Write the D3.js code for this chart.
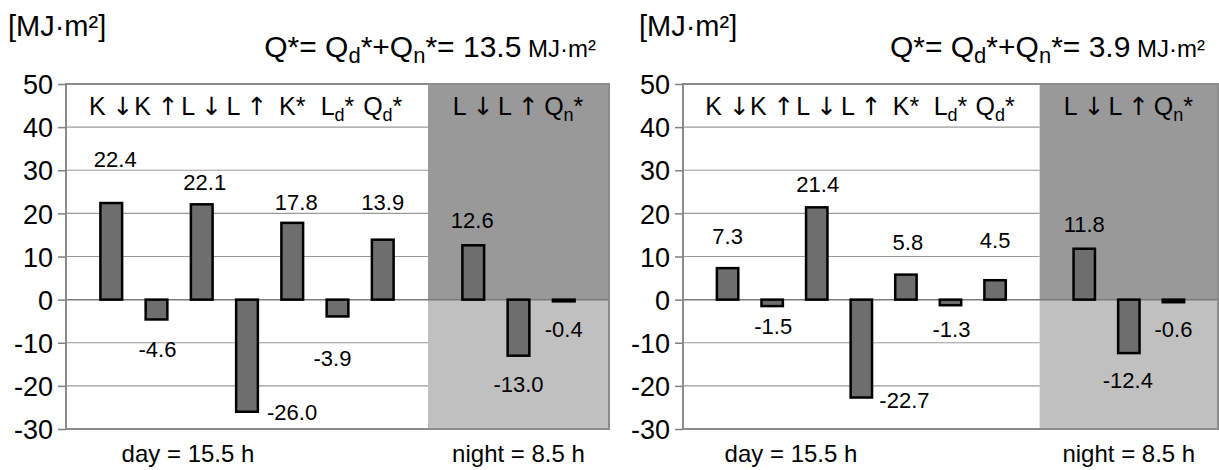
<!DOCTYPE html>
<meta charset="utf-8">
<style>
    body { margin: 0; background: #fff; }
    svg text { font-family: "Liberation Sans", Arial, sans-serif; fill: #000; }
    .tick text { font-size: 27px; }
    .tick line { stroke: #808080; stroke-width: 1.5; }
    .arrow { font-family: "DejaVu Sans", sans-serif; font-variant-emoji: text; }
</style>
<svg width="1219" height="470"></svg>
<script src="https://d3js.org/d3.v7.min.js"></script>
<script>

    // ---- data ----
    var yTicks = [-30, -20, -10, 0, 10, 20, 30, 40, 50];

    // "_x" means x is a subscript
    var dayCategories = ["K ↓", "K ↑", "L ↓", "L ↑", "K*", "L_d*", "Q_d*"];
    var nightCategories = ["L ↓", "L ↑", "Q_n*"];

    var dayValuesA = [22.4, -4.6, 22.1, -26.0, 17.8, -3.9, 13.9];
    var nightValuesA = [12.6, -13.0, -0.4];

    var dayValuesB = [7.3, -1.5, 21.4, -22.7, 5.8, -1.3, 4.5];
    var nightValuesB = [11.8, -12.4, -0.6];

    var totals = [13.5, 3.9];
    var dayHours = 15.5, nightHours = 8.5;
    var unitLabel = "[MJ·m²]";

    // ---- layout ----
    var svg = d3.select("svg");
    // plain hyphen for negatives, like the original
    var fmt = function (v) { return d3.format(".1f")(v).replace("\u2212", "-"); };

    var y = d3.scaleLinear()
        .domain([-30, 50])
        .range([429, 84]);

    // label nudges [dx, dy from bar end, anchor], hand placed like in the original
    var panels = [
        {
            left: 66, right: 609, unitX: 8, dayTextX: 188,
            day: dayValuesA, night: nightValuesA, total: totals[0],
            nudges: [[4, -36], [1, 38], [3, -14], [20, 8, "start"], [4, -13], [-5, 50], [0, -30],
                     [-1, -17], [0, 36], [0, 36]]
        },
        {
            left: 683, right: 1218, unitX: 639, dayTextX: 791,
            day: dayValuesB, night: nightValuesB, total: totals[1],
            nudges: [[0, -24], [1, 28], [1, -15], [18, 10, "start"], [2, -25], [1, 32], [0, -32],
                     [0, -17], [-1, 35], [0, 35]]
        }
    ];

    function plain(sel, s) {
        // arrows go in a font that draws them as text, not emoji
        s.split(/([↑↓])/).forEach(function (part) {
            if (!part) return;
            var t = sel.append("tspan").text(part);
            if (part == "↑" || part == "↓") t.attr("class", "arrow");
        });
    }

    function labelText(sel, label, subSize) {
        var parts = label.split("_");
        plain(sel, parts[0]);
        if (parts.length > 1) {
            sel.append("tspan")
                .attr("font-size", subSize)
                .attr("dy", 6)
                .text(parts[1].charAt(0));
            sel.append("tspan")
                .attr("dy", -6)
                .text(parts[1].slice(1));
        }
    }

    panels.forEach(function (p, pi) {
        var g = svg.append("g");

        var dayKeys = dayCategories.map(function (d, i) { return "d" + i; });
        var nightKeys = nightCategories.map(function (d, i) { return "n" + i; });
        var x = d3.scalePoint()
            .domain(["start"].concat(dayKeys, ["mid"], nightKeys, ["end"]))
            .range([p.left, p.right]);
        var barW = x.step() * 0.48;

        // night background
        g.append("rect")
            .attr("x", x("mid")).attr("y", y(50))
            .attr("width", x("end") - x("mid")).attr("height", y(0) - y(50))
            .attr("fill", "#999999");
        g.append("rect")
            .attr("x", x("mid")).attr("y", y(0))
            .attr("width", x("end") - x("mid")).attr("height", y(-30) - y(0))
            .attr("fill", "#c0c0c0");

        // grid lines in the day part
        g.selectAll(".grid")
            .data(yTicks.filter(function (t) { return t > -30 && t < 50 && t != 0; }))
            .enter().append("line")
            .attr("x1", x("start")).attr("x2", x("mid"))
            .attr("y1", function (d) { return y(d); })
            .attr("y2", function (d) { return y(d); })
            .attr("stroke", "#999").attr("stroke-width", 1.2);

        g.append("line")
            .attr("x1", x("start")).attr("x2", x("end"))
            .attr("y1", y(0)).attr("y2", y(0))
            .attr("stroke", "#7a7a7a").attr("stroke-width", 1.5);

        // frame
        g.append("rect")
            .attr("x", x("start")).attr("y", y(50))
            .attr("width", x("end") - x("start")).attr("height", y(-30) - y(50))
            .attr("fill", "none").attr("stroke", "#8c8c8c").attr("stroke-width", 2);

        var axis = g.append("g")
            .attr("transform", "translate(" + p.left + ",0)")
            .call(d3.axisLeft(y).tickValues(yTicks).tickSize(8).tickPadding(5)
                .tickFormat(function (d) { return String(d); }));
        axis.select(".domain").remove();
        axis.selectAll(".tick text").attr("dy", "0.36em");

        var bars = p.day.map(function (v, i) { return { key: dayKeys[i], value: v }; })
            .concat(p.night.map(function (v, i) { return { key: nightKeys[i], value: v }; }));

        g.selectAll(".bar")
            .data(bars)
            .enter().append("rect")
            .attr("x", function (d) { return x(d.key) - barW / 2; })
            .attr("y", function (d) { return y(Math.max(0, d.value)); })
            .attr("width", barW)
            .attr("height", function (d) { return Math.abs(y(d.value) - y(0)); })
            .attr("fill", "#6e6e6e")
            .attr("stroke", "#000")
            .attr("stroke-width", 2.5);

        g.selectAll(".val")
            .data(bars)
            .enter().append("text")
            .attr("font-size", 22)
            .attr("text-anchor", function (d, i) { return p.nudges[i][2] || "middle"; })
            .attr("x", function (d, i) { return x(d.key) + p.nudges[i][0]; })
            .attr("y", function (d, i) { return y(d.value) + p.nudges[i][1]; })
            .text(function (d) { return fmt(d.value); });

        // category labels along the top
        dayCategories.concat(nightCategories).forEach(function (c, i) {
            var key = i < dayKeys.length ? dayKeys[i] : nightKeys[i - dayKeys.length];
            var t = g.append("text")
                .attr("font-size", 25)
                .attr("text-anchor", "middle")
                .attr("x", x(key))
                .attr("y", 115);
            labelText(t, c, 18);
        });

        g.append("text")
            .attr("font-size", 24)
            .attr("text-anchor", "middle")
            .attr("x", p.dayTextX).attr("y", 462)
            .text("day = " + dayHours + " h");
        g.append("text")
            .attr("font-size", 24)
            .attr("text-anchor", "middle")
            .attr("x", x(nightKeys[1])).attr("y", 462)
            .text("night = " + nightHours + " h");

        g.append("text")
            .attr("font-size", 29)
            .attr("x", p.unitX).attr("y", 36)
            .text(unitLabel);

        var title = g.append("text")
            .attr("font-size", 30)
            .attr("text-anchor", "end")
            .attr("x", p.right - 13).attr("y", 57);
        title.append("tspan").text("Q*= Q");
        title.append("tspan").attr("font-size", 22).attr("dy", 6).text("d");
        title.append("tspan").attr("dy", -6).text("*+Q");
        title.append("tspan").attr("font-size", 22).attr("dy", 6).text("n");
        title.append("tspan").attr("dy", -6).text("*= " + p.total);
        title.append("tspan").attr("font-size", 24).text(" MJ·m²");
    });

</script>
